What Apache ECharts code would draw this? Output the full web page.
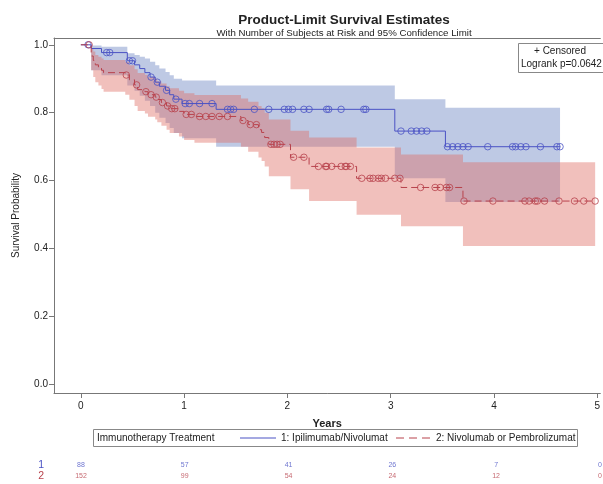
<!DOCTYPE html>
<html>
<head>
<meta charset="utf-8">
<script src="https://cdn.jsdelivr.net/npm/echarts@6/dist/echarts.min.js"></script>
<style>
  html, body { margin: 0; padding: 0; background: #fff; }
  #main { width: 603px; height: 484px; }
</style>
</head>
<body>
<div id="main"></div>
<script>
// group 1: Ipilimumab/Nivolumab  (step times, estimate, 95% CI)
const blueTimes = [0, 0.10, 0.20, 0.45, 0.52, 0.57, 0.62, 0.67, 0.72, 0.76, 0.82, 0.86, 0.90, 0.98, 1.31, 3.04, 3.53, 4.64];
const blueSurv  = [1.0, 0.989, 0.977, 0.953, 0.941, 0.930, 0.918, 0.905, 0.890, 0.878, 0.866, 0.853, 0.840, 0.827, 0.810, 0.746, 0.700, 0.700];
const blueLower = [1.0, 0.925, 0.910, 0.880, 0.865, 0.850, 0.835, 0.820, 0.800, 0.785, 0.770, 0.755, 0.740, 0.725, 0.700, 0.607, 0.537, 0.537];
const blueUpper = [1.0, 0.998, 0.994, 0.975, 0.970, 0.965, 0.960, 0.950, 0.940, 0.930, 0.920, 0.910, 0.900, 0.895, 0.880, 0.840, 0.815, 0.815];
const blueCens  = [0.07, 0.25, 0.28, 0.47, 0.50, 0.68, 0.74, 0.83, 0.92, 1.01, 1.05, 1.15, 1.27, 1.42, 1.45, 1.48, 1.68, 1.82,
                   1.97, 2.01, 2.05, 2.16, 2.21, 2.38, 2.40, 2.52, 2.74, 2.76, 3.10, 3.20, 3.25, 3.30, 3.35, 3.55, 3.60, 3.65,
                   3.70, 3.75, 3.94, 4.18, 4.21, 4.26, 4.31, 4.45, 4.61, 4.64];

// group 2: Nivolumab or Pembrolizumab
const redTimes = [0, 0.10, 0.12, 0.14, 0.17, 0.20, 0.22, 0.43, 0.47, 0.52, 0.55, 0.62, 0.65, 0.72, 0.74, 0.78, 0.83, 0.86,
                  0.95, 1.00, 1.10, 1.55, 1.62, 1.72, 1.75, 1.78, 1.82, 2.03, 2.21, 2.67, 3.10, 3.70, 4.98];
const redSurv  = [1.0, 0.967, 0.954, 0.941, 0.934, 0.925, 0.918, 0.911, 0.897, 0.882, 0.868, 0.862, 0.853, 0.846, 0.839, 0.830, 0.820, 0.812,
                  0.804, 0.795, 0.789, 0.777, 0.765, 0.750, 0.742, 0.727, 0.707, 0.669, 0.642, 0.607, 0.580, 0.540, 0.540];
const redLower = [1.0, 0.925, 0.905, 0.890, 0.880, 0.870, 0.862, 0.853, 0.838, 0.820, 0.805, 0.798, 0.788, 0.780, 0.772, 0.762, 0.750, 0.740,
                  0.730, 0.720, 0.712, 0.700, 0.685, 0.668, 0.658, 0.642, 0.613, 0.575, 0.540, 0.500, 0.466, 0.408, 0.408];
const redUpper = [1.0, 0.990, 0.980, 0.970, 0.965, 0.960, 0.955, 0.950, 0.940, 0.928, 0.917, 0.912, 0.905, 0.900, 0.893, 0.886, 0.878, 0.872,
                  0.865, 0.857, 0.852, 0.842, 0.832, 0.820, 0.813, 0.800, 0.780, 0.747, 0.727, 0.698, 0.677, 0.654, 0.654];
const redCens  = [0.08, 0.44, 0.54, 0.63, 0.68, 0.73, 0.79, 0.84, 0.88, 0.91, 1.02, 1.07, 1.15, 1.21, 1.27, 1.34, 1.42, 1.57,
                  1.64, 1.70, 1.84, 1.87, 1.90, 1.93, 2.06, 2.16, 2.30, 2.37, 2.38, 2.43, 2.52, 2.56, 2.57, 2.61, 2.72, 2.80,
                  2.83, 2.88, 2.91, 2.95, 3.04, 3.09, 3.29, 3.43, 3.48, 3.54, 3.57, 3.71, 3.99, 4.30, 4.34, 4.40, 4.42, 4.49,
                  4.63, 4.78, 4.87, 4.98];

// number at risk
const riskTimes  = [0, 1, 2, 3, 4, 5];
const riskGroup1 = [88, 57, 41, 26, 7, 0];
const riskGroup2 = [152, 99, 54, 24, 12, 0];

const xTicks = [0, 1, 2, 3, 4, 5];
const yTicks = [0, 0.2, 0.4, 0.6, 0.8, 1.0];

const BLUE = '#4a52c4';
const RED = '#b8424c';
const FONT = 'Liberation Sans';
const AXIS = '#777';

function pairs(times, vals) {
    return times.map((t, i) => [t, vals[i]]);
}
// censored marks sit on the curve at their time
function censPoints(cens, times, surv) {
    return cens.map(t => {
        let i = 0;
        while (i + 1 < times.length && times[i + 1] <= t) i++;
        return [t, surv[i]];
    });
}
// confidence band: one stepped polygon through the axis scales
function bandSeries(name, times, lower, upper, color) {
    return {
        name: name,
        type: 'custom',
        silent: true,
        clip: true,
        data: times.map((t, i) => [t, lower[i], upper[i]]),
        renderItem: function (params, api) {
            if (params.dataIndex !== 0) return null;
            var top = [], bot = [];
            for (var i = 0; i < times.length; i++) {
                var t1 = i + 1 < times.length ? times[i + 1] : times[i];
                top.push(api.coord([times[i], upper[i]]), api.coord([t1, upper[i]]));
                bot.push(api.coord([times[i], lower[i]]), api.coord([t1, lower[i]]));
            }
            return {
                type: 'polygon',
                shape: { points: top.concat(bot.reverse()) },
                style: { fill: color, stroke: null }
            };
        }
    };
}

var myChart = echarts.init(document.getElementById('main'));

let option = {
    animation: false,
    textStyle: { fontFamily: FONT },
    title: {
        text: 'Product-Limit Survival Estimates',
        subtext: 'With Number of Subjects at Risk and 95% Confidence Limit',
        left: 339,
        top: 8,
        textAlign: 'center',
        itemGap: 1,
        textStyle: { fontFamily: FONT, fontSize: 13.5, fontWeight: 'bold', color: '#222' },
        subtextStyle: { fontFamily: FONT, fontSize: 9.7, color: '#222' }
    },
    grid: [{
        left: 54,
        top: 38,
        right: 0,
        bottom: 91
    }, {
        left: 54,
        right: 0,
        top: 460,
        height: 22
    }],
    xAxis: [{
        type: 'value',
        min: -0.26,
        max: 5.03,
        name: 'Years',
        nameLocation: 'middle',
        nameGap: 25,
        nameTextStyle: { fontFamily: FONT, fontSize: 11, fontWeight: 'bold', color: '#222' },
        axisLine: { show: true, onZero: false, lineStyle: { color: AXIS } },
        axisTick: { show: true, length: 5, customValues: xTicks, lineStyle: { color: AXIS } },
        axisLabel: { customValues: xTicks, fontSize: 10, color: '#222', margin: 8 },
        splitLine: { show: false }
    }, {
        type: 'value',
        gridIndex: 1,
        min: -0.26,
        max: 5.03,
        show: false
    }, {
        // top frame line
        type: 'value',
        gridIndex: 0,
        position: 'top',
        min: -0.26,
        max: 5.03,
        axisLine: { show: true, onZero: false, lineStyle: { color: AXIS } },
        axisTick: { show: false },
        axisLabel: { show: false },
        splitLine: { show: false }
    }],
    yAxis: [{
        type: 'value',
        min: -0.025,
        max: 1.02,
        name: 'Survival Probability',
        nameLocation: 'middle',
        nameGap: 33,
        nameTextStyle: { fontFamily: FONT, fontSize: 10, color: '#222' },
        axisLine: { show: true, onZero: false, lineStyle: { color: AXIS } },
        axisTick: { show: true, length: 5, customValues: yTicks, lineStyle: { color: AXIS } },
        axisLabel: {
            customValues: yTicks,
            fontSize: 10,
            color: '#222',
            margin: 6,
            formatter: v => v.toFixed(1)
        },
        splitLine: { show: false }
    }, {
        type: 'category',
        gridIndex: 1,
        data: ['2', '1'],
        axisLine: { show: false },
        axisTick: { show: false },
        axisLabel: {
            interval: 0,
            fontSize: 10.5,
            margin: 10,
            color: (v) => (v === '1' ? BLUE : RED)
        }
    }],
    graphic: [
        { type: 'rect', z: 100, shape: { x: 93.5, y: 429.5, width: 484, height: 17 }, style: { fill: '#fff', stroke: '#888', lineWidth: 1 } },
        { type: 'text', z: 101, x: 97, y: 438, style: { text: 'Immunotherapy Treatment', font: '10px "Liberation Sans"', fill: '#222', verticalAlign: 'middle' } },
        { type: 'line', z: 101, shape: { x1: 240, y1: 438, x2: 276, y2: 438 }, style: { stroke: BLUE, lineWidth: 1 } },
        { type: 'text', z: 101, x: 281, y: 438, style: { text: '1: Ipilimumab/Nivolumat', font: '10px "Liberation Sans"', fill: '#222', verticalAlign: 'middle' } },
        { type: 'line', z: 101, shape: { x1: 396, y1: 438, x2: 431, y2: 438 }, style: { stroke: RED, lineWidth: 1, lineDash: [8, 5] } },
        { type: 'text', z: 101, x: 436, y: 438, style: { text: '2: Nivolumab or Pembrolizumat', font: '10px "Liberation Sans"', fill: '#222', verticalAlign: 'middle' } },
        { type: 'rect', z: 100, shape: { x: 518.5, y: 43.5, width: 100, height: 29 }, style: { fill: '#fff', stroke: '#888', lineWidth: 1 } },
        { type: 'text', z: 101, x: 560, y: 51, style: { text: '+ Censored', font: '10px "Liberation Sans"', fill: '#222', align: 'center', verticalAlign: 'middle' } },
        { type: 'text', z: 101, x: 521, y: 64.5, style: { text: 'Logrank p=0.0642', font: '10px "Liberation Sans"', fill: '#222', verticalAlign: 'middle' } }
    ],
    series: [
        bandSeries('blueBand', blueTimes, blueLower, blueUpper, 'rgba(110,135,195,0.45)'),
        bandSeries('redBand', redTimes, redLower, redUpper, 'rgba(222,105,95,0.42)'),
        {
            name: '1: Ipilimumab/Nivolumat',
            type: 'line',
            step: 'end',
            symbol: 'none',
            lineStyle: { color: BLUE, width: 1 },
            data: pairs(blueTimes, blueSurv)
        },
        {
            name: '2: Nivolumab or Pembrolizumat',
            type: 'line',
            step: 'end',
            symbol: 'none',
            lineStyle: { color: RED, width: 1, type: [7, 4] },
            data: pairs(redTimes, redSurv)
        },
        {
            name: 'cens1',
            type: 'scatter',
            symbol: 'circle',
            symbolSize: 6.5,
            itemStyle: { color: 'rgba(0,0,0,0)', borderColor: BLUE, borderWidth: 1 },
            data: censPoints(blueCens, blueTimes, blueSurv)
        },
        {
            name: 'cens2',
            type: 'scatter',
            symbol: 'circle',
            symbolSize: 6.5,
            itemStyle: { color: 'rgba(0,0,0,0)', borderColor: RED, borderWidth: 1 },
            data: censPoints(redCens, redTimes, redSurv)
        },
        {
            name: 'risk1',
            type: 'scatter',
            xAxisIndex: 1,
            yAxisIndex: 1,
            symbolSize: 0,
            label: { show: true, position: 'inside', fontSize: 7, color: BLUE, formatter: p => p.value[2] },
            data: riskTimes.map((t, i) => [t, '1', riskGroup1[i]])
        },
        {
            name: 'risk2',
            type: 'scatter',
            xAxisIndex: 1,
            yAxisIndex: 1,
            symbolSize: 0,
            label: { show: true, position: 'inside', fontSize: 7, color: RED, formatter: p => p.value[2] },
            data: riskTimes.map((t, i) => [t, '2', riskGroup2[i]])
        }
    ]
};

myChart.setOption(option);
</script>
</body>
</html>
